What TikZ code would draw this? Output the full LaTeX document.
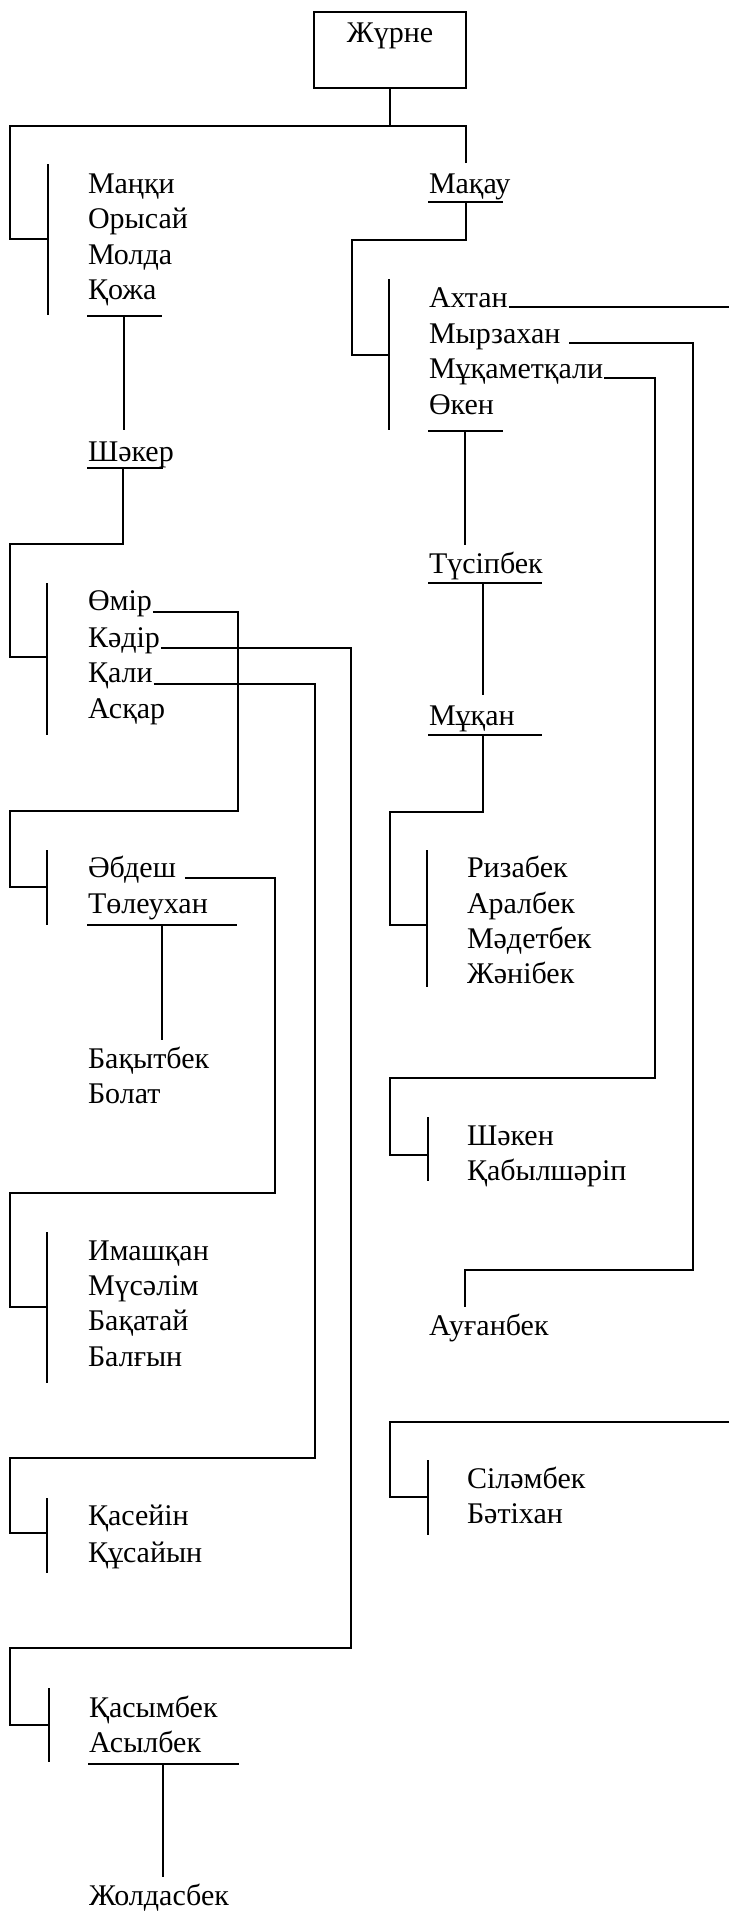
\documentclass[tikz,border=0pt]{standalone}
\usepackage{fontspec}
\setmainfont{Liberation Serif}

\tikzset{
  nm/.style={anchor=base west, inner sep=0pt, font=\fontsize{15}{18}\selectfont},
  rootbox/.style={draw, anchor=base, inner sep=0pt, minimum width=76pt,
                  text height=15pt, text depth=23pt, font=\fontsize{15}{18}\selectfont}
}

\begin{document}
\begin{tikzpicture}[x=0.5pt,y=-0.5pt,line width=1pt]
  \useasboundingbox (0,0) rectangle (729,1911);

  \node[rootbox] (zhurne) at (390,42) {Жүрне};

  % left column
  \node[nm] (manki) at (87,193) {Маңқи};
  \node[nm] (orysai) at (87,228) {Орысай};
  \node[nm] (molda) at (87,264) {Молда};
  \node[nm] (qozha) at (87,299) {Қожа};
  \node[nm] (shaker) at (87,461) {Шәкер};
  \node[nm] (omir) at (87,610) {Өмір};
  \node[nm] (kadir) at (87,647) {Кәдір};
  \node[nm] (qali) at (87,682) {Қали};
  \node[nm] (asqar) at (87,718) {Асқар};
  \node[nm] (abdesh) at (87,877) {Әбдеш};
  \node[nm] (toleukhan) at (87,913) {Төлеухан};
  \node[nm] (baqytbek) at (87,1068) {Бақытбек};
  \node[nm] (bolat) at (87,1103) {Болат};
  \node[nm] (imashqan) at (87,1260) {Имашқан};
  \node[nm] (musalim) at (87,1295) {Мүсәлім};
  \node[nm] (baqatai) at (87,1330) {Бақатай};
  \node[nm] (balghyn) at (87,1366) {Балғын};
  \node[nm] (qasein) at (87,1525) {Қасейін};
  \node[nm] (qusaiyn) at (87,1562) {Құсайын};
  \node[nm] (qasymbek) at (88,1717) {Қасымбек};
  \node[nm] (asylbek) at (88,1752) {Асылбек};
  \node[nm] (zholdasbek) at (88,1905) {Жолдасбек};

  % right column
  \node[nm] (makau) at (428,193) {Мақау};
  \node[nm] (akhtan) at (428,307) {Ахтан};
  \node[nm] (myrzakhan) at (428,343) {Мырзахан};
  \node[nm] (muqametqali) at (428,378) {Мұқаметқали};
  \node[nm] (oken) at (428,414) {Өкен};
  \node[nm] (tusipbek) at (428,573) {Түсіпбек};
  \node[nm] (muqan) at (428,725) {Мұқан};
  \node[nm] (rizabek) at (466,877) {Ризабек};
  \node[nm] (aralbek) at (466,913) {Аралбек};
  \node[nm] (madetbek) at (466,948) {Мәдетбек};
  \node[nm] (zhanibek) at (466,983) {Жәнібек};
  \node[nm] (shaken) at (466,1145) {Шәкен};
  \node[nm] (qabylsharip) at (466,1180) {Қабылшәріп};
  \node[nm] (auganbek) at (428,1335) {Ауғанбек};
  \node[nm] (silambek) at (466,1488) {Сіләмбек};
  \node[nm] (batikhan) at (466,1523) {Бәтіхан};

  % junctions on the bars, free ends at the edge
  \coordinate (j1) at (48,239);
  \coordinate (j2) at (47,657);
  \coordinate (j3) at (47,887);
  \coordinate (j4) at (47,1307);
  \coordinate (j5) at (47,1533);
  \coordinate (j6) at (49,1725);
  \coordinate (k1) at (389,355);
  \coordinate (k2) at (427,925);
  \coordinate (k3) at (428,1155);
  \coordinate (k4) at (428,1497);
  \coordinate (edge1) at (729,307);
  \coordinate (edge2) at (729,1422);

  % bars
  \draw (48,164) -- (48,315);
  \draw (47,583) -- (47,735);
  \draw (47,850) -- (47,925);
  \draw (47,1232) -- (47,1383);
  \draw (47,1498) -- (47,1573);
  \draw (49,1688) -- (49,1762);
  \draw (389,279) -- (389,430);
  \draw (427,850) -- (427,987);
  \draw (428,1117) -- (428,1181);
  \draw (428,1460) -- (428,1535);

  % underlines
  \draw (87,316) -- (162,316);
  \draw (87,468) -- (163,468);
  \draw (87,925) -- (237,925);
  \draw (88,1764) -- (239,1764);
  \draw (428,202) -- (503,202);
  \draw (428,431) -- (503,431);
  \draw (428,583) -- (542,583);
  \draw (428,735) -- (542,735);

  % connectors
  \draw (zhurne.south) -- (390,126);
  \draw (466,163) |- (10,126) |- (j1);
  \draw (124,316) -- (124,430);
  \draw (123,468) |- (10,544) |- (j2);
  \draw ([yshift=-1pt]omir.base east) -| (238,811) -- (10,811) |- (j3);
  \draw ([yshift=-0.5pt]kadir.base east) -| (351,1648) -- (10,1648) |- (j6);
  \draw ([yshift=-1pt]qali.base east) -| (315,1458) -- (10,1458) |- (j5);
  \draw ([xshift=4pt,yshift=-0.5pt]abdesh.base east) -| (275,1193) -- (10,1193) |- (j4);
  \draw (162,925) -- (162,1040);
  \draw (163,1764) -- (163,1877);

  \draw (466,202) |- (352,240) |- (k1);
  \draw (akhtan.base east) -- (edge1);
  \draw ([xshift=4pt]myrzakhan.base east) -| (693,1270) -- (465,1270) -- (465,1307);
  \draw (muqametqali.base east) -| (655,1078) -- (390,1078) |- (k3);
  \draw (465,431) -- (465,545);
  \draw (483,583) -- (483,695);
  \draw (483,735) |- (390,812) |- (k2);
  \draw (edge2) -- (390,1422) |- (k4);
\end{tikzpicture}
\end{document}
